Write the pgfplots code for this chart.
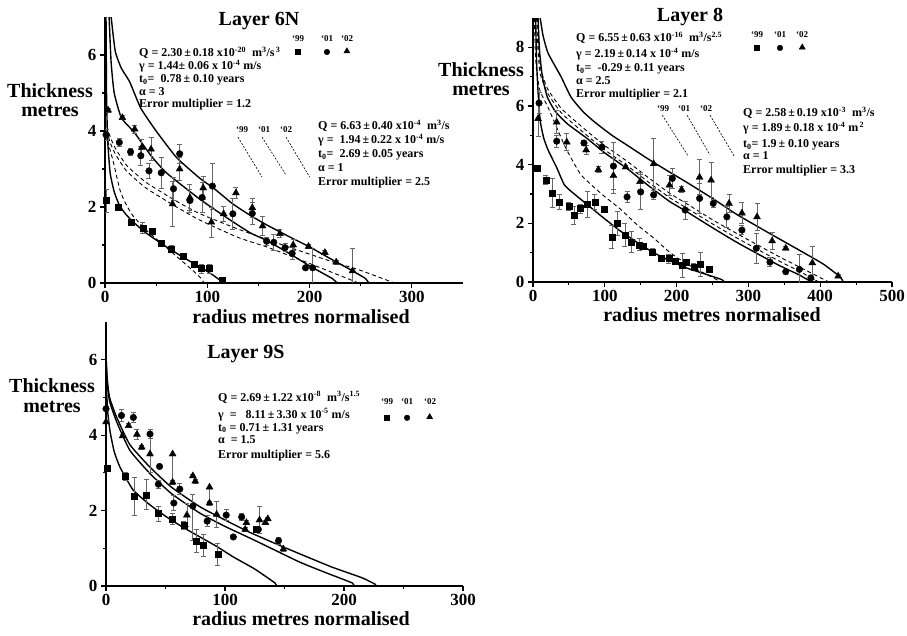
\documentclass[border=0pt]{standalone}
\usepackage{fontspec}
\setmainfont{Liberation Serif}
\usepackage{pgfplots}
\usepackage{pgfplotstable}
\pgfplotsset{compat=1.18}

% ---------------- Layer 6N data ----------------
\pgfplotstableread{
x y ep em
1 2.17 0.3 0.3
13 2.0 0.05 0.05
26 1.6 0.05 0.05
37 1.45 0.15 0.15
46 1.37 0.05 0.05
55 1.05 0.05 0.05
65 0.9 0.1 0.1
76 0.7 0.05 0.05
87 0.5 0.05 0.05
94 0.38 0.12 0.12
102 0.38 0.12 0.12
115 0.07 0.05 0.05
}\sixA
\pgfplotstableread{
x y ep em
1 3.9 0.15 0.15
14 3.7 0.1 0.1
25 3.45 0.1 0.1
35 3.35 0.25 0.25
43 2.95 0.2 0.2
55 2.9 0.4 0.4
67 2.48 0.3 0.3
73 3.4 0.25 0.25
83 2.17 0.3 0.3
95 2.25 0.4 0.4
105 2.55 0.6 0.6
125 1.82 0.4 0.4
144 1.83 0.3 0.3
158 1.1 0.1 0.1
165 1.07 0.2 0.2
176 0.93 0.1 0.1
183 0.78 0.15 0.15
196 0.4 0.05 0.05
203 0.4 0.5 0.5
}\sixB
\pgfplotstableread{
x y ep em
3 4.55 0.05 0.05
17 4.35 0.05 0.05
29 4.05 0.1 0.1
36 3.57 0.2 0.2
45 3.52 0.3 0.3
66 2.08 0.6 0.6
73 3.0 0.3 0.3
83 2.25 0.35 0.35
96 2.5 0.3 0.3
104 1.6 0.4 0.4
116 1.82 0.2 0.2
128 2.37 0.15 0.15
144 1.98 0.25 0.25
154 1.5 0.25 0.25
171 1.3 0.1 0.1
184 1.0 0.15 0.15
199 0.96 0.05 0.05
215 0.8 0.05 0.05
226 0.55 0.05 0.05
242 0.32 0.6 0.6
}\sixC

% ---------------- Layer 8 data ----------------
\pgfplotstableread{
x y ep em
5.6 3.88 0.1 0.1
18 3.47 0.15 0.15
27 3.03 0.5 0.5
37 2.73 0.25 0.25
50 2.58 0.15 0.15
57 2.28 0.3 0.3
66 2.5 0.15 0.15
76 2.65 0.45 0.45
86 2.73 0.25 0.25
99 2.48 0.1 0.1
110 1.53 0.4 0.4
117 2.0 0.4 0.4
128 1.6 0.4 0.4
137 1.37 0.35 0.35
148 1.27 0.2 0.2
154 1.23 0.1 0.1
166 1.03 0.1 0.1
179 0.8 0.1 0.1
189 0.8 0.15 0.15
198 0.7 0.1 0.1
208 0.57 0.4 0.4
214 0.68 0.05 0.05
224 0.52 0.1 0.1
233 0.6 0.4 0.4
246 0.43 0.05 0.05
}\eightA
\pgfplotstableread{
x y ep em
8.4 6.1 0.35 0.35
33 4.8 0.2 0.2
71 4.74 0.1 0.1
96 4.6 0.2 0.2
112 3.95 0.8 0.8
131 2.9 0.2 0.2
150 3.07 0.6 0.6
168 2.97 0.15 0.15
194 3.53 0.35 0.35
212 2.45 0.3 0.3
232 2.85 0.5 0.5
251 2.68 0.15 0.15
270 2.22 0.35 0.35
291 1.77 0.15 0.15
311 1.15 0.5 0.5
330 0.68 0.15 0.15
352 0.35 0 0
371 0.43 0.5 0.5
387 0.14 0.05 0.05
}\eightB
\pgfplotstableread{
x y ep em
7 5.57 0.6 0.6
33 5.45 0.4 0.4
47 4.77 0.3 0.3
74 4.5 0.15 0.15
91 3.83 0.1 0.1
112 3.63 0.6 0.6
129 3.92 0.05 0.05
149 3.42 0.3 0.3
168 4.03 0.85 0.85
190 3.3 0.35 0.35
207 3.15 0.1 0.1
232 3.57 0.6 0.6
248 3.47 0.6 0.6
273 2.68 0.3 0.3
291 2.35 0.35 0.35
312 2.22 0.45 0.45
333 1.4 0.3 0.3
352 1.15 0.05 0.05
389 0.65 0.55 0.55
425 0.2 0.05 0.05
}\eightC

% ---------------- Layer 9S data ----------------
\pgfplotstableread{
x y ep em
1 3.13 0.05 0.05
16 2.9 0.1 0.1
24 2.37 0.5 0.5
34 2.42 0.4 0.4
44 1.92 0.2 0.2
56 1.78 0.15 0.15
65.5 1.61 0.1 0.1
76 1.2 0.3 0.3
82 1.08 0.3 0.3
94 0.84 0.3 0.3
126 1.5 0.05 0.05
}\nineA
\pgfplotstableread{
x y ep em
0 4.7 0.05 0.05
13 4.52 0.15 0.15
23 4.47 0.12 0.12
37 4.03 0.12 0.12
45 3.17 0.05 0.05
44 2.7 0.1 0.1
57 2.2 0.2 0.2
62 2.57 0.15 0.15
73 2.12 0.3 0.9
85 1.72 0.15 0.15
101 1.88 0.15 0.15
107 1.3 0 0
114 1.83 0.1 0.1
128 1.5 0.05 0.05
145 1.2 0.1 0.1
}\nineB
\pgfplotstableread{
x y ep em
0 4.35 0.05 0.05
14 3.98 0.05 0.05
19 4.25 0.05 0.05
26 4.02 0.12 0.12
30 3.68 0.05 0.05
37 3.5 0.5 0.5
56 3.5 0 0.75
56 2.75 0.05 0.05
68 1.88 0.3 0.3
73 2.92 0.05 0.05
75 2.78 0.05 0.05
87 2.62 0 0.4
87 2.2 0.05 0.05
93 1.9 0.35 0.35
117 1.5 0.05 0.05
118 1.68 0.05 0.05
129 1.75 0.35 0.35
134 1.68 0.05 0.05
136 1.78 0.05 0.05
149 0.98 0.05 0.05
}\nineC

\newcommand{\annfont}{\bfseries\fontsize{12}{13}\selectfont}
\newcommand{\bigfont}{\bfseries\fontsize{20}{22}\selectfont}
\newcommand{\smfont}{\bfseries\fontsize{9}{10}\selectfont}
\newcommand{\ann}[3]{\node[anchor=base west, inner sep=0pt, font=\annfont] at (#1pt,-#2pt) {#3};}
\newcommand{\bigtxt}[3]{\node[anchor=base, inner sep=0pt, font=\bigfont] at (#1pt,-#2pt) {#3};}
\newcommand{\sq}[1]{\textsuperscript{#1}}
\newcommand{\tz}{t\textsubscript{0}}

\pgfplotsset{
  panel/.style={
    scale only axis, anchor=south west,
    axis lines=left, axis line style={line width=1.3pt,-},
    xmin=0, ymin=0,
    tick style={line width=1.1pt, black},
    major tick length=5pt, minor tick length=3pt, tick align=outside,
    minor x tick num=1, minor y tick num=1,
    tick label style={font=\bfseries\fontsize{17}{17}\selectfont},
    /pgf/number format/assume math mode=true,
  },
  fit/.style={black, line width=1.4pt, smooth, tension=0.3, mark=none},
  fitd/.style={black, line width=0.9pt, dash pattern=on 4pt off 3pt, smooth, tension=0.3, mark=none},
  lead/.style={black, line width=0.6pt, dash pattern=on 2pt off 1.5pt, mark=none},
  dat/.style={only marks, black,
    error bars/y dir=both, error bars/y explicit,
    error bars/error bar style={line width=0.8pt, black!60},
    error bars/error mark options={rotate=90, mark size=2.5pt, line width=0.8pt, black!60}},
  msq/.style={mark=square*, mark size=3pt},
  mci/.style={mark=*, mark size=3.3pt},
  mtr/.style={mark=triangle*, mark size=4pt},
}

\begin{document}
\begin{tikzpicture}
\path[use as bounding box] (0pt,0pt) rectangle (907pt,-636pt);

% ================= Layer 6N =================
\begin{axis}[panel, at={(105pt,-283pt)}, width=358pt, height=266pt,
  xmax=350, ymax=7, xtick={0,100,200,300}, ytick={0,2,4,6}]
\addplot[fit] coordinates {(1,7) (1.5,5) (2.5,3.8) (5,2.9) (9,2.4) (14,2.05) (20,1.82) (27,1.62) (40,1.32) (60,0.95) (80,0.62) (93,0.42) (105,0.22) (115,0.02)};
\addplot[fit] coordinates {(4,7) (6,5.8) (9,5.0) (16,4.35) (29,3.95) (45,3.35) (60,2.9) (93,2.2) (120,1.7) (142,1.32) (158,1.12) (180,0.78) (200,0.45) (222,0.12) (227,0)};
\addplot[fit] coordinates {(6,7) (10,6.1) (16,5.65) (24,5.3) (35,4.6) (50,4.0) (70,3.3) (93,2.75) (106,2.5) (125,2.08) (142,1.78) (158,1.53) (180,1.22) (200,0.95) (223,0.6) (240,0.35) (254,0.13) (258,0)};
\addplot[fitd] coordinates {(0,4.1) (2,3.85) (4,3.6) (8,3.2) (14.6,2.45) (20,2.1) (27,1.78) (40,1.4) (55,1.05) (70,0.7) (85,0.35) (93,0.15) (97,0)};
\addplot[fitd] coordinates {(0,4.2) (5,3.7) (10,3.4) (21,2.95) (40,2.5) (70,2.0) (93,1.65) (130,1.2) (158,0.95) (190,0.62) (220,0.3) (248,0)};
\addplot[fitd] coordinates {(0,4.3) (5,3.85) (10,3.55) (21,3.1) (40,2.65) (70,2.15) (93,1.82) (130,1.42) (158,1.15) (190,0.85) (220,0.58) (250,0.33) (283,0)};
\addplot[msq, dat] table[x=x, y=y, y error plus=ep, y error minus=em] {\sixA};
\addplot[mci, dat] table[x=x, y=y, y error plus=ep, y error minus=em] {\sixB};
\addplot[mtr, dat] table[x=x, y=y, y error plus=ep, y error minus=em] {\sixC};
% leader lines
\addplot[lead] coordinates {(130,3.84) (153.5,2.79)};
\addplot[lead] coordinates {(153.5,3.84) (177,2.84)};
\addplot[lead] coordinates {(177,3.84) (200,2.79)};
% key markers
\addplot[only marks, black, msq, mark size=2.5pt] coordinates {(188.7,6.08)};
\addplot[only marks, black, mci, mark size=2.8pt] coordinates {(217,6.08)};
\addplot[only marks, black, mtr, mark size=3.5pt] coordinates {(236.5,6.1)};
\end{axis}

% ================= Layer 8 =================
\begin{axis}[panel, at={(533pt,-282pt)}, width=359pt, height=264pt,
  xmax=500, ymax=9, xtick={0,100,200,300,400,500}, ytick={0,2,4,6,8}]
\addplot[fit] coordinates {(3.6,9) (5,7.5) (7,6.5) (10,5.5) (15,4.9) (21,4.5) (33,3.9) (44,3.3) (60,2.95) (75,2.65) (100,2.15) (121,1.75) (145,1.35) (168,1.0) (191,0.72) (215,0.47) (240,0.27) (263,0.08) (266,0)};
\addplot[fit] coordinates {(7,9) (9,7.9) (13,7.0) (20,6.3) (30,5.85) (39,5.6) (50,5.35) (75,4.9) (100,4.4) (132,3.85) (160,3.3) (190,2.75) (214,2.4) (250,1.85) (284,1.35) (340,0.6) (370,0.25) (388,0)};
\addplot[fit] coordinates {(10,9) (14,8.4) (21,7.8) (39,7.0) (53,6.3) (70,5.8) (86,5.45) (110,5.0) (132,4.65) (160,4.2) (190,3.75) (214,3.4) (250,2.85) (284,2.3) (330,1.65) (377,1.0) (405,0.6) (428,0.17) (432,0)};
\addplot[fitd] coordinates {(2,9) (3,8) (5,7.2) (10,6.5) (21,5.95) (45,4.6) (67,3.65) (98,2.95) (121,2.5) (145,1.95) (168,1.5) (191,1.0) (214,0.62) (240,0.28) (262,0)};
\addplot[fitd] coordinates {(5,9) (7,7.9) (10,7.1) (20,6.45) (40,5.75) (75,5.0) (100,4.5) (132,3.95) (160,3.42) (190,2.88) (214,2.52) (250,1.98) (284,1.5) (340,0.75) (370,0.38) (398,0)};
\addplot[fitd] coordinates {(6,9) (8,8.0) (11,7.25) (20,6.6) (40,5.9) (75,5.15) (100,4.65) (132,4.1) (160,3.57) (190,3.03) (214,2.67) (250,2.12) (284,1.65) (340,0.9) (380,0.4) (412,0)};
\addplot[msq, dat] table[x=x, y=y, y error plus=ep, y error minus=em] {\eightA};
\addplot[mci, dat] table[x=x, y=y, y error plus=ep, y error minus=em] {\eightB};
\addplot[mtr, dat] table[x=x, y=y, y error plus=ep, y error minus=em] {\eightC};
\addplot[lead] coordinates {(180,5.69) (216,4.3)};
\addplot[lead] coordinates {(214.5,5.69) (246.5,4.33)};
\addplot[lead] coordinates {(246.5,5.69) (281,4.26)};
\addplot[only marks, black, msq, mark size=2.5pt] coordinates {(312,7.98)};
\addplot[only marks, black, mci, mark size=2.8pt] coordinates {(344,7.98)};
\addplot[only marks, black, mtr, mark size=3.5pt] coordinates {(375,8.0)};
\end{axis}

% ================= Layer 9S =================
\begin{axis}[panel, at={(106pt,-586pt)}, width=357pt, height=264pt,
  xmax=300, ymax=7, xtick={0,100,200,300}, ytick={0,2,4,6}]
\addplot[fit] coordinates {(0,6.1) (0.5,5.2) (1.5,4.6) (3.4,4.1) (7,3.55) (11.8,3.15) (22.7,2.55) (37,2.15) (51,1.83) (65,1.55) (79,1.3) (93,1.05) (107,0.77) (125,0.45) (142,0.08) (143,0)};
\addplot[fit] coordinates {(0,6.1) (1,5.4) (3,4.9) (9,4.35) (20,3.6) (37,2.98) (55,2.45) (79,1.93) (100,1.58) (121,1.27) (142,0.95) (163,0.63) (185,0.35) (207,0.08) (208,0)};
\addplot[fit] coordinates {(0,6.1) (1,5.5) (3,5.0) (9,4.47) (20,3.75) (37,3.15) (55,2.62) (79,2.1) (100,1.75) (121,1.42) (142,1.13) (163,0.85) (190,0.5) (215,0.22) (226,0.05) (227,0)};
\addplot[msq, dat] table[x=x, y=y, y error plus=ep, y error minus=em] {\nineA};
\addplot[mci, dat] table[x=x, y=y, y error plus=ep, y error minus=em] {\nineB};
\addplot[mtr, dat] table[x=x, y=y, y error plus=ep, y error minus=em] {\nineC};
\addplot[only marks, black, msq, mark size=2.5pt] coordinates {(236,4.46)};
\addplot[only marks, black, mci, mark size=2.8pt] coordinates {(253,4.46)};
\addplot[only marks, black, mtr, mark size=3.5pt] coordinates {(272,4.48)};
\end{axis}

% ================= texts =================
\bigtxt{259}{26}{Layer 6N}
\bigtxt{690}{22}{Layer 8}
\bigtxt{246}{358}{Layer 9S}

\bigtxt{50}{98}{Thickness}
\bigtxt{50}{117}{metres}
\bigtxt{481}{77}{Thickness}
\bigtxt{481}{96}{metres}
\bigtxt{52}{392}{Thickness}
\bigtxt{52}{412}{metres}

\bigtxt{301}{323}{radius metres normalised}
\bigtxt{712}{321}{radius metres normalised}
\bigtxt{301}{625}{radius metres normalised}

% Layer 6N blocks
\ann{139}{57}{Q\ =\ 2.30\,±\,0.18 x10\sq{-20}\ \ m\sq{3}/s\sq{\,3}}
\ann{139}{70}{γ = 1.44± 0.06 x 10\sq{-4} m/s}
\ann{139}{83}{\tz=\ \ 0.78\,±\ 0.10 years}
\ann{139}{96}{α = 3}
\ann{139}{108}{Error multiplier =\ 1.2}
\node[font=\smfont] at (298pt,-39pt) {\textquoteleft 99};
\node[font=\smfont] at (327pt,-39pt) {\textquoteleft 01};
\node[font=\smfont] at (347pt,-39pt) {\textquoteleft 02};
\node[font=\smfont] at (242pt,-130pt) {\textquoteleft 99};
\node[font=\smfont] at (264pt,-130pt) {\textquoteleft 01};
\node[font=\smfont] at (286pt,-130pt) {\textquoteleft 02};
\ann{318}{130}{Q\ =\ 6.63\,±\,0.40 x10\sq{-4}\ \ m\sq{3}/s}
\ann{318}{144}{γ =\ \ 1.94\,±\,0.22 x 10\sq{-4} m/s}
\ann{318}{158}{\tz=\ \ 2.69\,±\ 0.05 years}
\ann{318}{172}{α = 1}
\ann{318}{186}{Error multiplier =\ 2.5}

% Layer 8 blocks
\ann{576}{42}{Q\ =\ 6.55\,±\,0.63 x10\sq{-16}\ \ m\sq{3}/s\sq{2.5}}
\ann{576}{58}{γ = 2.19\,±\,0.14 x 10\sq{-4} m/s}
\ann{576}{72}{\tz=\ \ -0.29\,±\ 0.11 years}
\ann{576}{85}{α = 2.5}
\ann{576}{98}{Error multiplier =\ 2.1}
\node[font=\smfont] at (757pt,-35pt) {\textquoteleft 99};
\node[font=\smfont] at (780pt,-35pt) {\textquoteleft 01};
\node[font=\smfont] at (802pt,-35pt) {\textquoteleft 02};
\node[font=\smfont] at (663pt,-109pt) {\textquoteleft 99};
\node[font=\smfont] at (684pt,-109pt) {\textquoteleft 01};
\node[font=\smfont] at (706pt,-109pt) {\textquoteleft 02};
\ann{743}{117}{Q\ =\ 2.58\,±\,0.19 x10\sq{-3}\ \ m\sq{3}/s}
\ann{743}{132}{γ = 1.89\,±\,0.18 x 10\sq{-4} m\sq{\,2}}
\ann{743}{148}{\tz= 1.9\,±\ 0.10 years}
\ann{743}{160}{α = 1}
\ann{743}{174}{Error multiplier =\ 3.3}

% Layer 9S block
\ann{218}{401}{Q =\ 2.69\,±\,1.22 x10\sq{-8}\ \ m\sq{3}/s\sq{1.5}}
\ann{218}{418}{γ\ \ =\ \ \ 8.11\,±\,3.30 x 10\sq{-5} m/s}
\ann{218}{431}{\tz\ = 0.71\,±\ 1.31 years}
\ann{218}{443}{α\ \ = 1.5}
\ann{218}{458}{Error multiplier =\ 5.6}
\node[font=\smfont] at (387pt,-402pt) {\textquoteleft 99};
\node[font=\smfont] at (407pt,-402pt) {\textquoteleft 01};
\node[font=\smfont] at (430pt,-402pt) {\textquoteleft 02};
\end{tikzpicture}
\end{document}
